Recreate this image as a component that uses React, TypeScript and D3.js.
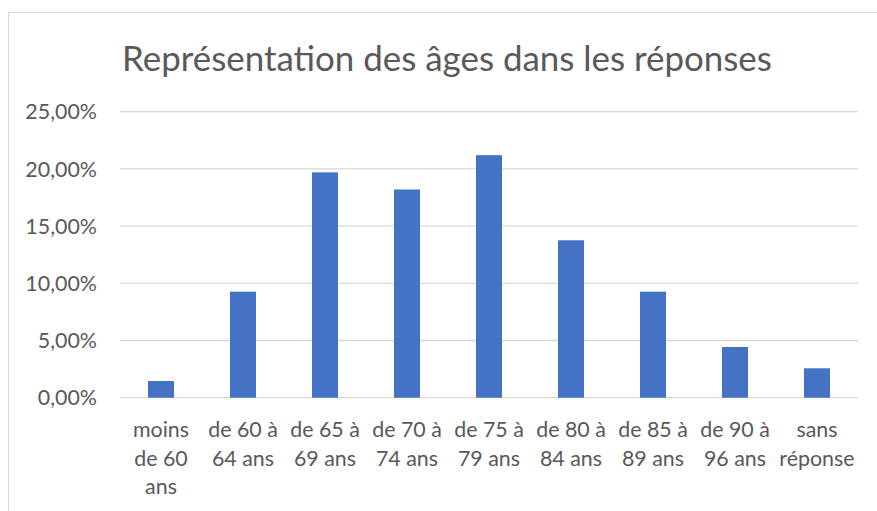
import * as d3 from "d3"
import { useEffect, useRef } from "react"

// Données
const categories = [
  "moins de 60 ans",
  "de 60 à 64 ans",
  "de 65 à 69 ans",
  "de 70 à 74 ans",
  "de 75 à 79 ans",
  "de 80 à 84 ans",
  "de 85 à 89 ans",
  "de 90 à 96 ans",
  "sans réponse",
]
const shares = [0.0146, 0.0927, 0.197, 0.182, 0.212, 0.1376, 0.0927, 0.0443, 0.0257]
const yTicks = [0, 0.05, 0.1, 0.15, 0.2, 0.25]
const title = "Représentation des âges dans les réponses"

const W = 877
const H = 511
const FONT = "Lato, 'Open Sans', sans-serif"
const TEXT = "#595959"
const GRID = "#d9d9d9"
const BAR = "#4472c4"

const frLocale = d3.formatLocale({ decimal: ",", thousands: " ", grouping: [3], currency: ["", " €"] })
const pct = frLocale.format(".2%")

function App() {
  const ref = useRef<SVGSVGElement>(null)

  useEffect(() => {
    document.body.style.margin = "0"
    const svg = d3.select(ref.current)
    svg.selectAll("*").remove()

    const x = d3.scaleBand().domain(categories).range([120, 858]).paddingInner(0.683).paddingOuter(0.3415)
    const y = d3.scaleLinear().domain([0, 0.25]).range([397.7, 111.7])

    // cadre du graphique
    svg.append("rect")
      .attr("x", 8.5).attr("y", 12.5)
      .attr("width", 900).attr("height", 600)
      .attr("fill", "white").attr("stroke", GRID)

    svg.append("text")
      .attr("x", 447).attr("y", 71)
      .attr("text-anchor", "middle")
      .attr("font-family", FONT).attr("font-size", 34.9)
      .attr("fill", TEXT)
      .text(title)

    // grille + graduations
    const gy = svg.append("g")
    gy.selectAll("line")
      .data(yTicks)
      .join("line")
      .attr("x1", 120).attr("x2", 858)
      .attr("y1", (d) => y(d)).attr("y2", (d) => y(d))
      .attr("stroke", GRID).attr("stroke-width", 1.3)
    gy.selectAll("text")
      .data(yTicks)
      .join("text")
      .attr("x", 97).attr("y", (d) => y(d))
      .attr("dy", "0.36em")
      .attr("text-anchor", "end")
      .attr("font-family", FONT).attr("font-size", 21.4)
      .attr("fill", TEXT)
      .text((d) => pct(d))

    svg.append("g")
      .selectAll("rect")
      .data(shares)
      .join("rect")
      .attr("x", (_, i) => x(categories[i])!)
      .attr("y", (d) => y(d))
      .attr("width", x.bandwidth())
      .attr("height", (d) => y(0) - y(d))
      .attr("fill", BAR)

    // libellés des catégories, coupés sur plusieurs lignes
    const labels = svg.append("g")
    categories.forEach((c) => {
      const t = labels.append("text")
        .attr("text-anchor", "middle")
        .attr("font-family", FONT).attr("font-size", 21.4)
        .attr("fill", TEXT)
      const cx = x(c)! + x.bandwidth() / 2
      const words = c.split(" ")
      let lines: string[] = []
      let cur = ""
      const probe = t.append("tspan")
      words.forEach((w) => {
        const test = cur ? cur + " " + w : w
        probe.text(test)
        if (cur && (probe.node() as SVGTextContentElement).getComputedTextLength() > 80) {
          lines.push(cur)
          cur = w
        } else cur = test
      })
      lines.push(cur)
      probe.remove()
      lines.forEach((l, i) => {
        t.append("tspan").attr("x", cx).attr("y", 437 + i * 28.5).text(l)
      })
    })
  }, [])

  return <svg ref={ref} width={W} height={H} style={{ display: "block" }} />
}

export default App
